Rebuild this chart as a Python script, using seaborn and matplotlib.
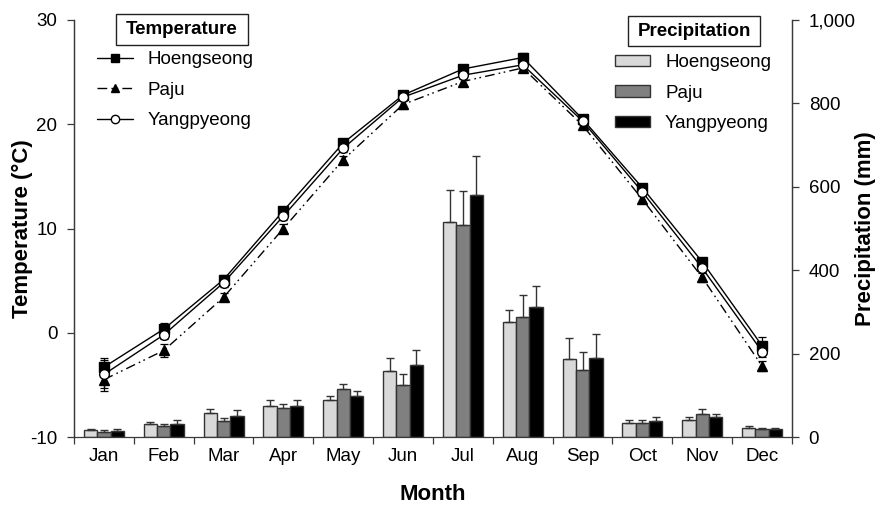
import numpy as np
import pandas as pd
import matplotlib
matplotlib.use("Agg")
import matplotlib.pyplot as plt
import seaborn as sns
from matplotlib.ticker import FuncFormatter, FixedLocator, NullFormatter
from matplotlib.lines import Line2D
from matplotlib.patches import Patch, Rectangle

# ---- data -------------------------------------------------------------
months = ["Jan", "Feb", "Mar", "Apr", "May", "Jun",
          "Jul", "Aug", "Sep", "Oct", "Nov", "Dec"]
sites = ["Hoengseong", "Paju", "Yangpyeong"]

# mean monthly air temperature (°C) and its standard deviation
temp_hoengseong = [-3.3, 0.35, 5.1, 11.7, 18.2, 22.8, 25.3, 26.4, 20.5, 13.9, 6.8, -1.25]
temp_paju = [-4.5, -1.7, 3.4, 10.0, 16.6, 21.9, 24.1, 25.4, 19.9, 12.8, 5.3, -3.2]
temp_yangpyeong = [-4.0, -0.2, 4.8, 11.2, 17.7, 22.6, 24.7, 25.7, 20.3, 13.5, 6.2, -1.8]
temp_sd_hoengseong = [0.7, 0.55, 0.4, 0.4, 0.4, 0.4, 0.4, 0.4, 0.4, 0.4, 0.4, 0.8]
temp_sd_paju = [0.8, 0.6, 0.4, 0.4, 0.4, 0.4, 0.4, 0.4, 0.4, 0.4, 0.4, 0.5]
temp_sd_yangpyeong = [1.6, 0.4, 0.4, 0.4, 0.4, 0.4, 0.4, 0.4, 0.4, 0.4, 0.4, 0.5]

# mean monthly precipitation (mm) and its standard deviation
prec_hoengseong = [16, 30, 57, 74, 88, 158, 516, 275, 187, 33, 41, 22]
prec_paju = [13, 26, 38, 70, 114, 124, 508, 288, 160, 33, 54, 19]
prec_yangpyeong = [15, 31, 50, 74, 98, 173, 581, 312, 190, 38, 48, 18]
prec_sd_hoengseong = [3, 5, 10, 14, 10, 31, 77, 30, 50, 7, 6, 4]
prec_sd_paju = [3, 5, 8, 9, 14, 28, 83, 53, 45, 7, 12, 2]
prec_sd_yangpyeong = [4, 9, 14, 15, 12, 36, 93, 49, 58, 9, 6, 3]

temps = [temp_hoengseong, temp_paju, temp_yangpyeong]
temp_sds = [temp_sd_hoengseong, temp_sd_paju, temp_sd_yangpyeong]
precs = [prec_hoengseong, prec_paju, prec_yangpyeong]
prec_sds = [prec_sd_hoengseong, prec_sd_paju, prec_sd_yangpyeong]

prec_df = pd.DataFrame({
    "Month": months * 3,
    "Site": np.repeat(sites, len(months)),
    "Precipitation": np.concatenate(precs),
})

# ---- style ------------------------------------------------------------
sns.set_theme(style="white")
plt.rcParams["font.family"] = ["Liberation Sans", "DejaVu Sans"]
plt.rcParams["axes.edgecolor"] = "#3a3a3a"
plt.rcParams["axes.linewidth"] = 0.9
plt.rcParams["axes.unicode_minus"] = False
plt.rcParams["text.color"] = "black"
plt.rcParams["axes.labelcolor"] = "black"
plt.rcParams["xtick.labelcolor"] = "black"
plt.rcParams["ytick.labelcolor"] = "black"

FS = 13.5
bar_colors = ["#d9d9d9", "#808080", "#000000"]
line_styles = ["-", (0, (7, 3, 1.2, 2.5, 1.2, 3)), "-"]
markers = ["s", "^", "o"]
marker_faces = ["black", "black", "white"]

fig = plt.figure(figsize=(8.79, 5.09), dpi=100)
ax_p = fig.add_axes([74 / 879, 72 / 509, 718 / 879, 417 / 509])
ax_t = ax_p.twinx()

# ---- precipitation bars (right axis) ---------------------------------
sns.barplot(data=prec_df, x="Month", y="Precipitation", hue="Site",
            order=months, hue_order=sites, palette=bar_colors,
            width=0.667, errorbar=None, edgecolor="#333333", linewidth=1.0,
            legend=False, ax=ax_p)
for cont, sd in zip(ax_p.containers, prec_sds):
    xs = [b.get_x() + b.get_width() / 2 for b in cont]
    hs = [b.get_height() for b in cont]
    ax_p.errorbar(xs, hs, yerr=[np.zeros(len(sd)), sd], fmt="none",
                  ecolor="#333333", elinewidth=1.0, capsize=3, capthick=1.0,
                  zorder=1)

# ---- temperature lines (left axis) -----------------------------------
xpos = np.arange(len(months))
for t, sd, ls, m, fc in zip(temps, temp_sds, line_styles, markers, marker_faces):
    ax_t.errorbar(xpos, t, yerr=sd, fmt="none", ecolor="black",
                  elinewidth=0.9, capsize=3, capthick=0.9, zorder=2)
    sns.lineplot(x=xpos, y=t, ax=ax_t, color="black", linewidth=1.0,
                 marker=m, markersize=7, markerfacecolor=fc,
                 markeredgecolor="black", markeredgewidth=1.0, zorder=3)
    ax_t.lines[-1].set_linestyle(ls)

# ---- axes ---------------------------------------------------------------
ax_p.set_xlim(-0.5, 11.5)
ax_p.set_ylim(0, 1000)
ax_t.set_ylim(-10, 30)

ax_p.yaxis.tick_right()
ax_p.yaxis.set_label_position("right")
ax_t.yaxis.tick_left()
ax_t.yaxis.set_label_position("left")

ax_p.set_yticks(np.arange(0, 1001, 200))
ax_p.yaxis.set_major_formatter(FuncFormatter(lambda v, _: f"{v:,.0f}"))
ax_t.set_yticks(np.arange(-10, 31, 10))

ax_p.xaxis.set_major_locator(FixedLocator(np.arange(-0.5, 12, 1)))
ax_p.xaxis.set_major_formatter(NullFormatter())
ax_p.xaxis.set_minor_locator(FixedLocator(xpos))
ax_p.set_xticklabels(months, minor=True)
ax_p.tick_params(axis="x", which="major", direction="out", length=5,
                 width=0.9, color="#3a3a3a", bottom=True)
ax_p.tick_params(axis="x", which="minor", length=0, pad=8, labelsize=FS,
                 labelcolor="black")
ax_p.tick_params(axis="y", direction="out", length=5, width=0.9,
                 color="#3a3a3a", pad=7, labelsize=FS, right=True, left=False,
                 labelcolor="black")
ax_t.tick_params(axis="y", direction="out", length=5, width=0.9,
                 color="#3a3a3a", pad=7, labelsize=FS, left=True, right=False,
                 labelcolor="black")

for a in (ax_p, ax_t):
    a.spines["top"].set_visible(False)
    a.grid(False)
ax_t.spines["bottom"].set_visible(False)

ax_p.set_xlabel("Month", fontsize=16, fontweight="bold", color="black")
ax_p.xaxis.set_label_coords(0.5, -(495 - 437) / 417)
ax_p.xaxis.label.set_va("center")
ax_p.set_ylabel("Precipitation (mm)", fontsize=16, fontweight="bold",
                rotation=90, color="black")
ax_p.yaxis.set_label_coords((855 - 74) / 718, 0.5)
ax_t.set_ylabel("Temperature (\u00b0C)", fontsize=16, fontweight="bold",
                color="black")
ax_t.yaxis.set_label_coords((33 - 74) / 718, 0.5)
ax_t.set_xlabel("")

# ---- legends ------------------------------------------------------------
line_handles = [Line2D([], [], color="black", lw=1.0, ls=ls, marker=m,
                       markersize=6, markerfacecolor=fc, markeredgecolor="black")
                for ls, m, fc in zip(line_styles, markers, marker_faces)]
leg_t = ax_t.legend(line_handles, sites, loc="upper left",
                    bbox_to_anchor=(97 / 879, 1 - 51 / 509),
                    bbox_transform=fig.transFigure, frameon=False,
                    fontsize=FS, borderpad=0, borderaxespad=0,
                    handlelength=1.92, handletextpad=0.8, labelspacing=0.72,
                    labelcolor="black")

bar_handles = [Patch(facecolor=c, edgecolor="#333333", lw=1.0) for c in bar_colors]
leg_p = fig.legend(bar_handles, sites, loc="upper left",
                   bbox_to_anchor=(615 / 879, 1 - 54 / 509),
                   frameon=False, fontsize=FS, borderpad=0, borderaxespad=0,
                   handlelength=1.87, handleheight=0.55, handletextpad=0.8,
                   labelspacing=0.72, labelcolor="black")

# boxed legend titles
for (x0, y0, w, h), title in [((116, 14, 132, 31), "Temperature"),
                              ((628, 16, 132, 30), "Precipitation")]:
    fig.add_artist(Rectangle((x0 / 879, 1 - (y0 + h) / 509), w / 879, h / 509,
                             transform=fig.transFigure, facecolor="white",
                             edgecolor="#222222", lw=1.0))
    fig.text((x0 + w / 2) / 879, 1 - (y0 + h / 2) / 509, title,
             ha="center", va="center", fontsize=13.5, fontweight="bold",
             color="black")

fig.savefig("out.png", dpi=100)
